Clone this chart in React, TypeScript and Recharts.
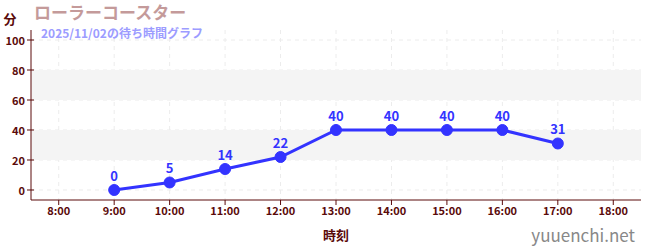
import {
  LineChart,
  Line,
  XAxis,
  YAxis,
  CartesianGrid,
  ReferenceArea,
  LabelList,
} from "recharts";

const hours = [9, 10, 11, 12, 13, 14, 15, 16, 17];
const waits = [0, 5, 14, 22, 40, 40, 40, 40, 31];
const hourTicks = [8, 9, 10, 11, 12, 13, 14, 15, 16, 17, 18];
const waitTicks = [0, 10, 20, 30, 40, 50, 60, 70, 80, 90, 100];
const majorWaits = [0, 20, 40, 60, 80, 100];
const bands = [
  [20, 40],
  [60, 80],
];

const data = hours.map((h, i) => ({ hour: h, wait: waits[i] }));

const FONT = "'Noto Sans CJK JP', 'Noto Sans', sans-serif";
const AXIS = "#5a0a0a";

function WaitTick(props: any) {
  const { x, y, payload } = props;
  const major = payload.value % 20 === 0;
  if (!major) {
    return <line x1={x - 4} x2={x} y1={y} y2={y} stroke="#e03030" strokeWidth={1} />;
  }
  return (
    <g>
      <line x1={x - 4} x2={x + 3} y1={y} y2={y} stroke={AXIS} strokeWidth={1} />
      <text
        x={x - 6}
        y={y}
        textAnchor="end"
        dominantBaseline="central"
        fill={AXIS}
        fontSize={11}
        fontWeight="bold"
        fontFamily={FONT}
      >
        {payload.value}
      </text>
    </g>
  );
}

export default function App() {
  return (
    <div style={{ position: "absolute", left: 0, top: 0, width: 650, height: 250, background: "#fff", fontFamily: FONT }}>
      <LineChart
        width={650}
        height={250}
        data={data}
        margin={{ top: 30, right: 9, bottom: 0, left: 0 }}
      >
        {bands.map(([a, b]) => (
          <ReferenceArea key={a} y1={a} y2={b} fill="#f4f4f4" fillOpacity={1} stroke="none" />
        ))}
        <CartesianGrid
          stroke="#ececec"
          strokeDasharray="4 4"
          horizontalValues={majorWaits}
          verticalValues={hourTicks}
        />
        <XAxis
          type="number"
          dataKey="hour"
          domain={[7.5, 18.5]}
          ticks={hourTicks}
          tickFormatter={(v: number) => `${v}:00`}
          height={50}
          stroke={AXIS}
          tickSize={5}
          tick={{ fill: AXIS, fontSize: 11, fontWeight: "bold", fontFamily: FONT }}
          label={{
            value: "時刻",
            position: "insideBottom",
            offset: 10,
            fill: AXIS,
            fontSize: 13,
            fontWeight: "bold",
            fontFamily: FONT,
          }}
        />
        <YAxis
          type="number"
          domain={[-6.67, 106.67]}
          ticks={waitTicks}
          width={31}
          stroke={AXIS}
          tickLine={false}
          tickSize={0}
          tickMargin={0}
          tick={<WaitTick />}
          allowDataOverflow
        />
        <Line
          type="linear"
          dataKey="wait"
          stroke="#3333ff"
          strokeWidth={3}
          dot={{ r: 5.5, fill: "#3333ff", stroke: "#3333ff", strokeWidth: 1 }}
          isAnimationActive={false}
        >
          <LabelList
            dataKey="wait"
            position="top"
            offset={9}
            fill="#3333ff"
            fontSize={13}
            fontWeight="bold"
            fontFamily={FONT}
          />
        </Line>
        <text x={10} y={18} textAnchor="middle" dominantBaseline="central" fill={AXIS} fontSize={13} fontWeight="bold" fontFamily={FONT}>
          分
        </text>
        <text x={34} y={11} dominantBaseline="central" fill="#c49a9a" fontSize={17} fontWeight="bold" fontFamily={FONT}>
          ローラーコースター
        </text>
        <text x={41} y={32} dominantBaseline="central" fill="#9c9cff" fontSize={12} fontWeight="bold" fontFamily={FONT}>
          2025/11/02の待ち時間グラフ
        </text>
        <text x={635} y={234} textAnchor="end" dominantBaseline="central" fill="#888" fontSize={17} fontFamily={FONT}>
          yuuenchi.net
        </text>
      </LineChart>
    </div>
  );
}
